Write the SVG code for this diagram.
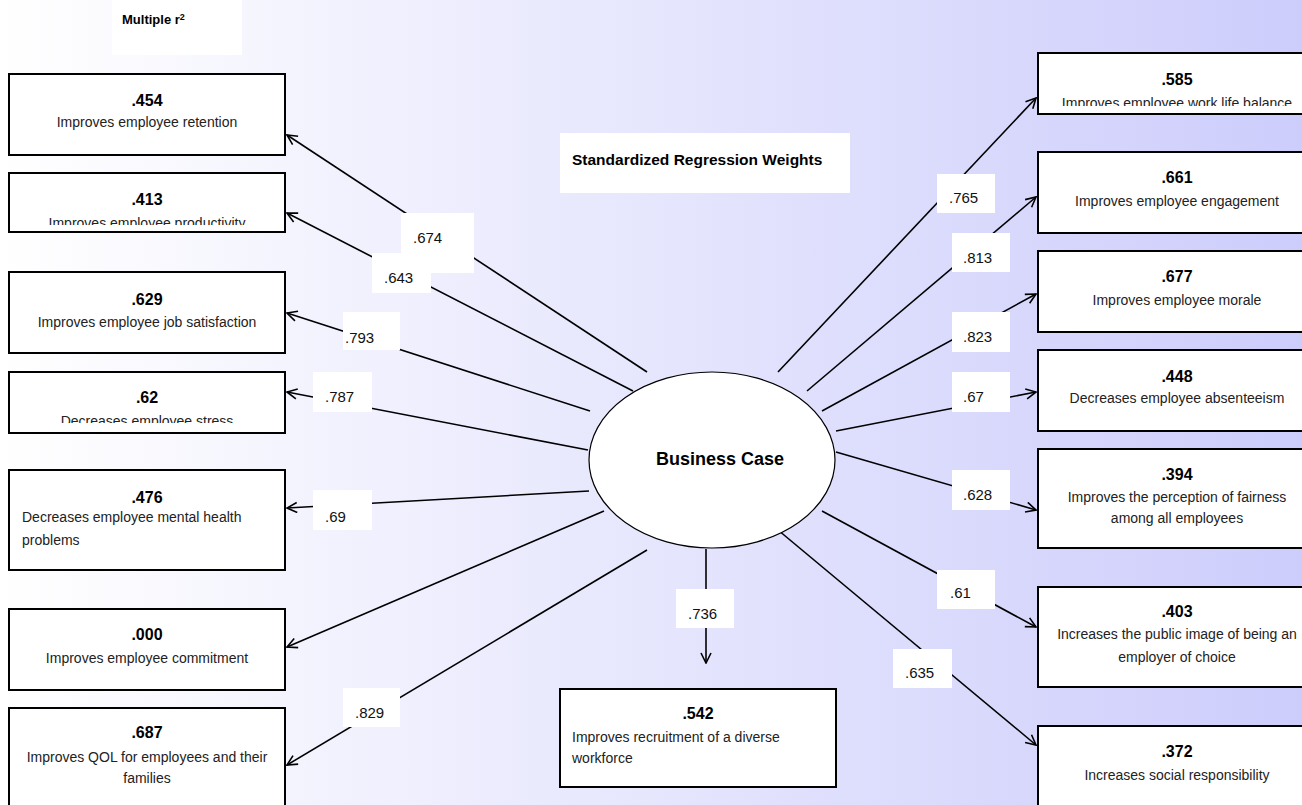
<svg xmlns="http://www.w3.org/2000/svg" width="1302" height="805" viewBox="0 0 1302 805">
<defs>
<linearGradient id="bg" x1="0" y1="0" x2="1" y2="0">
<stop offset="0" stop-color="#ffffff"/>
<stop offset="1" stop-color="#cdcdfc"/>
</linearGradient>
<marker id="arr" viewBox="0 0 12 12" refX="11" refY="6" markerWidth="12" markerHeight="12" markerUnits="userSpaceOnUse" orient="auto">
<path d="M1,1 L11,6 L1,11" fill="none" stroke="#000" stroke-width="1.6"/>
</marker>
<clipPath id="c413"><rect x="9" y="173" width="276" height="52"/></clipPath>
<clipPath id="c62"><rect x="9" y="372" width="276" height="51"/></clipPath>
<clipPath id="c585"><rect x="1038" y="53" width="280" height="53"/></clipPath>
<style>
.box{fill:#fff;stroke:#000;stroke-width:2}
.num{font-family:"Liberation Sans",Arial,sans-serif;font-weight:bold;font-size:16px;fill:#000}
.desc{font-family:"Liberation Sans",Arial,sans-serif;font-size:14px;fill:#222}
.lbl{fill:#fff}
.lt{font-family:"Liberation Sans",Arial,sans-serif;font-size:15px;fill:#111}
.c{text-anchor:middle}
.edge{stroke:#000;stroke-width:1.6;fill:none}
.title{font-family:"Liberation Sans",Arial,sans-serif;font-weight:bold;fill:#000}
</style>
</defs>
<rect x="0" y="0" width="1302" height="805" fill="url(#bg)"/>

<g id="labels-static">
<rect x="112" y="0" width="130" height="55" fill="#fff"/>
<text class="title" x="122" y="24" font-size="13">Multiple r<tspan font-size="9" dy="-4">2</tspan></text>
<rect x="560" y="133" width="290" height="60" fill="#fff"/>
<text class="title" x="572" y="165" font-size="15.5">Standardized Regression Weights</text>
</g>

<g id="connectors">
<line class="edge" x1="647" y1="372" x2="287" y2="135" marker-end="url(#arr)"/>
<line class="edge" x1="633" y1="391" x2="287" y2="213" marker-end="url(#arr)"/>
<line class="edge" x1="590" y1="411" x2="287" y2="313" marker-end="url(#arr)"/>
<line class="edge" x1="588" y1="450" x2="287" y2="392" marker-end="url(#arr)"/>
<line class="edge" x1="589" y1="491" x2="287" y2="508" marker-end="url(#arr)"/>
<line class="edge" x1="604" y1="511" x2="287" y2="647" marker-end="url(#arr)"/>
<line class="edge" x1="647" y1="550" x2="287" y2="765" marker-end="url(#arr)"/>
<line class="edge" x1="706" y1="549" x2="706" y2="663" marker-end="url(#arr)"/>
<line class="edge" x1="778" y1="372" x2="1036" y2="98" marker-end="url(#arr)"/>
<line class="edge" x1="807" y1="391" x2="1036" y2="197" marker-end="url(#arr)"/>
<line class="edge" x1="822" y1="411" x2="1036" y2="294" marker-end="url(#arr)"/>
<line class="edge" x1="836" y1="431" x2="1036" y2="392" marker-end="url(#arr)"/>
<line class="edge" x1="836" y1="452" x2="1036" y2="510" marker-end="url(#arr)"/>
<line class="edge" x1="822" y1="511" x2="1036" y2="627" marker-end="url(#arr)"/>
<line class="edge" x1="778" y1="530" x2="1036" y2="745" marker-end="url(#arr)"/>
<g id="edge-labels">
<rect class="lbl" x="401" y="213" width="73" height="60"/><text class="lt" x="413" y="243">.674</text>
<rect class="lbl" x="372" y="253" width="59" height="40"/><text class="lt" x="384" y="283">.643</text>
<rect class="lbl" x="343" y="312" width="57" height="38"/><text class="lt" x="345" y="343">.793</text>
<rect class="lbl" x="313" y="372" width="59" height="40"/><text class="lt" x="325" y="402">.787</text>
<rect class="lbl" x="313" y="490" width="59" height="40"/><text class="lt" x="325" y="522">.69</text>
<rect class="lbl" x="343" y="688" width="57" height="39"/><text class="lt" x="355" y="718">.829</text>
<rect class="lbl" x="676" y="589" width="58" height="39"/><text class="lt" x="688" y="619">.736</text>
<rect class="lbl" x="937" y="174" width="58" height="39"/><text class="lt" x="949" y="203">.765</text>
<rect class="lbl" x="952" y="233" width="58" height="39"/><text class="lt" x="963" y="263">.813</text>
<rect class="lbl" x="952" y="312" width="58" height="40"/><text class="lt" x="963" y="342">.823</text>
<rect class="lbl" x="952" y="372" width="58" height="40"/><text class="lt" x="963" y="402">.67</text>
<rect class="lbl" x="952" y="470" width="58" height="40"/><text class="lt" x="963" y="500">.628</text>
<rect class="lbl" x="937" y="570" width="58" height="39"/><text class="lt" x="950" y="598">.61</text>
<rect class="lbl" x="893" y="649" width="59" height="39"/><text class="lt" x="905" y="678">.635</text>
</g>
</g>

<g id="business-case">
<ellipse cx="712" cy="460" rx="123" ry="88" fill="#fff" stroke="#000" stroke-width="1.2"/>
<text class="title c" x="720" y="465" font-size="18">Business Case</text>
</g>

<g id="n-retention">
<rect class="box" x="9" y="74" width="276" height="81"/>
<text class="num c" x="147" y="106">.454</text>
<text class="desc c" x="147" y="127">Improves employee retention</text>
</g>
<g id="n-productivity">
<rect class="box" x="9" y="173" width="276" height="59"/>
<text class="num c" x="147" y="205">.413</text>
<text class="desc c" x="147" y="228" clip-path="url(#c413)">Improves employee productivity</text>
</g>
<g id="n-jobsat">
<rect class="box" x="9" y="272" width="276" height="81"/>
<text class="num c" x="147" y="305">.629</text>
<text class="desc c" x="147" y="327">Improves employee job satisfaction</text>
</g>
<g id="n-stress">
<rect class="box" x="9" y="372" width="276" height="61"/>
<text class="num c" x="147" y="403">.62</text>
<text class="desc c" x="147" y="426" clip-path="url(#c62)">Decreases employee stress</text>
</g>
<g id="n-mental">
<rect class="box" x="9" y="470" width="276" height="100"/>
<text class="num c" x="147" y="503">.476</text>
<text class="desc" x="22" y="522">Decreases employee mental health</text>
<text class="desc" x="22" y="545">problems</text>
</g>
<g id="n-commitment">
<rect class="box" x="9" y="609" width="276" height="81"/>
<text class="num c" x="147" y="640">.000</text>
<text class="desc c" x="147" y="663">Improves employee commitment</text>
</g>
<g id="n-qol">
<rect class="box" x="9" y="708" width="276" height="100"/>
<text class="num c" x="147" y="738">.687</text>
<text class="desc c" x="147" y="762">Improves QOL for employees and their</text>
<text class="desc c" x="147" y="783">families</text>
</g>

<g id="n-recruitment">
<rect class="box" x="560" y="689" width="276" height="98"/>
<text class="num c" x="698" y="719">.542</text>
<text class="desc" x="572" y="742">Improves recruitment of a diverse</text>
<text class="desc" x="572" y="763">workforce</text>
</g>

<g id="n-worklife">
<rect class="box" x="1038" y="53" width="280" height="61"/>
<text class="num c" x="1177" y="85">.585</text>
<text class="desc c" x="1177" y="108" clip-path="url(#c585)">Improves employee work life balance</text>
</g>
<g id="n-engagement">
<rect class="box" x="1038" y="152" width="280" height="81"/>
<text class="num c" x="1177" y="183">.661</text>
<text class="desc c" x="1177" y="206">Improves employee engagement</text>
</g>
<g id="n-morale">
<rect class="box" x="1038" y="251" width="280" height="81"/>
<text class="num c" x="1177" y="282">.677</text>
<text class="desc c" x="1177" y="305">Improves employee morale</text>
</g>
<g id="n-absenteeism">
<rect class="box" x="1038" y="350" width="280" height="81"/>
<text class="num c" x="1177" y="382">.448</text>
<text class="desc c" x="1177" y="403">Decreases employee absenteeism</text>
</g>
<g id="n-fairness">
<rect class="box" x="1038" y="449" width="280" height="99"/>
<text class="num c" x="1177" y="480">.394</text>
<text class="desc c" x="1177" y="502">Improves the perception of fairness</text>
<text class="desc c" x="1177" y="523">among all employees</text>
</g>
<g id="n-publicimage">
<rect class="box" x="1038" y="587" width="280" height="100"/>
<text class="num c" x="1177" y="617">.403</text>
<text class="desc c" x="1177" y="639">Increases the public image of being an</text>
<text class="desc c" x="1177" y="662">employer of choice</text>
</g>
<g id="n-social">
<rect class="box" x="1038" y="726" width="280" height="100"/>
<text class="num c" x="1177" y="757">.372</text>
<text class="desc c" x="1177" y="780">Increases social responsibility</text>
</g>
</svg>
